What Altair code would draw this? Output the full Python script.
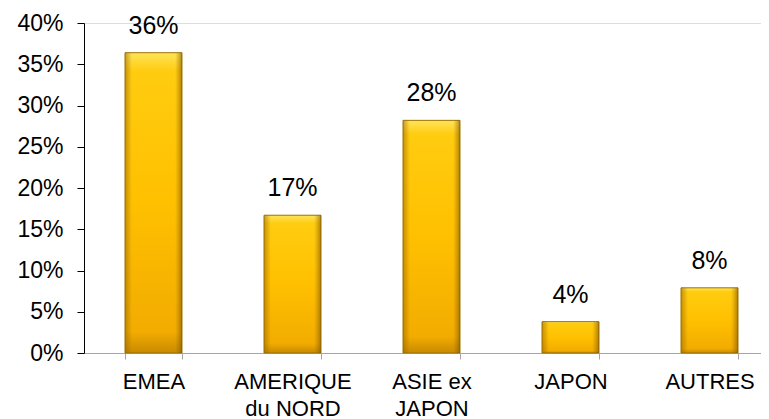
import altair as alt
import pandas as pd

categories = ["EMEA", "AMERIQUE|du NORD", "ASIE ex|JAPON", "JAPON", "AUTRES"]
values = [36.4, 16.7, 28.2, 3.8, 7.9]
labels = ["36%", "17%", "28%", "4%", "8%"]
y_ticks = [0, 5, 10, 15, 20, 25, 30, 35, 40]

df = pd.DataFrame({"cat": categories, "val": values, "lab": labels})

FONT = "Liberation Sans"

x_enc = alt.X(
    "cat:N",
    sort=categories,
    title=None,
    scale=alt.Scale(range=[0, 695], paddingInner=0.59, paddingOuter=0.295),
    axis=alt.Axis(
        labelExpr="split(datum.label, '|')",
        labelAngle=0,
        labelFont=FONT,
        labelFontSize=22,
        labelColor="#000000",
        labelPadding=12,
        labelLineHeight=27,
        domainColor="#A6A6A6",
        tickColor="#A6A6A6",
        tickSize=6,
        tickBand="extent",
        grid=False,
    ),
)

y_enc = alt.Y(
    "val:Q",
    title=None,
    scale=alt.Scale(domain=[0, 40], nice=False),
    axis=alt.Axis(
        values=y_ticks,
        labelExpr="datum.value + '%'",
        labelFont=FONT,
        labelFontSize=23,
        labelColor="#000000",
        labelPadding=14,
        domainColor="#000000",
        tickColor="#000000",
        tickSize=7,
        grid=False,
    ),
)

vgrad = alt.Gradient(
    gradient="linear",
    x1=0, x2=0, y1=0, y2=1,
    stops=[
        alt.GradientStop(color="#FFE45A", offset=0),
        alt.GradientStop(color="#FFCC10", offset=0.06),
        alt.GradientStop(color="#FFC000", offset=0.5),
        alt.GradientStop(color="#F2AC00", offset=0.93),
        alt.GradientStop(color="#C88A00", offset=1),
    ],
)

hgrad = alt.Gradient(
    gradient="linear",
    x1=0, x2=1, y1=0, y2=0,
    stops=[
        alt.GradientStop(color="rgba(150,100,0,0.55)", offset=0),
        alt.GradientStop(color="rgba(150,100,0,0.0)", offset=0.12),
        alt.GradientStop(color="rgba(150,100,0,0.0)", offset=0.88),
        alt.GradientStop(color="rgba(120,80,0,0.6)", offset=1),
    ],
)

base = alt.Chart(df)

bars = base.mark_bar(fill=vgrad, stroke="#9C7200", strokeWidth=1).encode(x=x_enc, y=y_enc)
edges = base.mark_bar(fill=hgrad).encode(x=x_enc, y=y_enc)
text = base.mark_text(
    font=FONT, fontSize=25, color="#000000", baseline="middle", dy=-27
).encode(x=x_enc, y=y_enc, text="lab:N")

chart = (
    alt.layer(bars, edges, text)
    .properties(
        width=677,
        height=330,
        autosize="none",
        padding={"left": 76, "top": 15, "right": 0, "bottom": 66},
    )
    .configure_view(stroke=None)
    .configure(background="white")
)

chart.save("out.html", embed_options={"renderer": "svg", "actions": False})
